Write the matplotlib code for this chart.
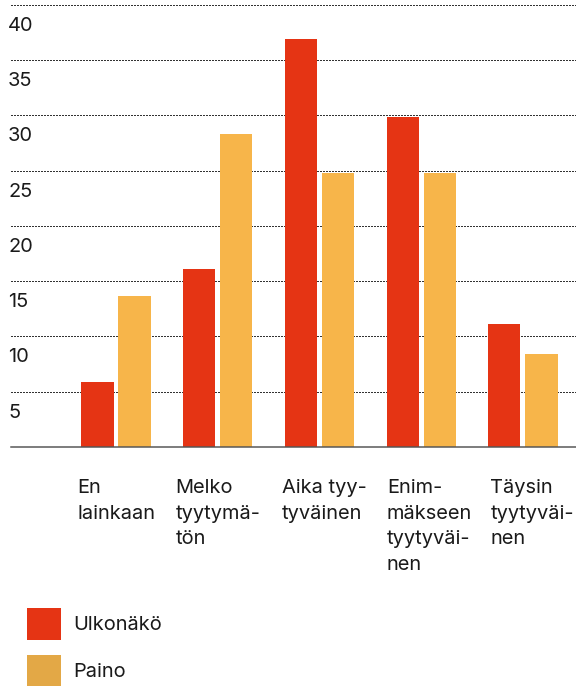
import matplotlib
matplotlib.use("Agg")
import matplotlib.pyplot as plt
from matplotlib.patches import Patch
import numpy as np

categories = ["En\nlainkaan", "Melko\ntyytymä-\ntön", "Aika tyy-\ntyväinen",
              "Enim-\nmäkseen\ntyytyväi-\nnen", "Täysin\ntyytyväi-\nnen"]
ulkonako = [5.9, 16.1, 36.9, 29.9, 11.1]
paino = [13.7, 28.3, 24.8, 24.8, 8.4]
yticks = [5, 10, 15, 20, 25, 30, 35, 40]
series_names = ["Ulkonäkö", "Paino"]

# layout
label_offsets = [-0.378, -0.417, -0.373, -0.339, -0.320]
RED = "#E53414"
YEL = "#F7B54A"
YEL_LEG = "#E3A846"
TXT = "#1a1a1a"
FS = 20

plt.rcParams['font.family'] = ['Inter', 'DejaVu Sans']

W, H = 576, 686
fig = plt.figure(figsize=(W / 72, H / 72), dpi=72)
ax = fig.add_axes([11 / W, 1 - 447 / H, 565 / W, 447 / H])

x = np.arange(len(categories))
bw = 0.315
off = 0.182
ax.bar(x - off, ulkonako, width=bw, color=RED, zorder=3)
ax.bar(x + off, paino, width=bw, color=YEL, zorder=3)

ax.set_xlim(-1.032, 4.521)
ax.set_ylim(0, 40.45)
ax.set_yticks(yticks)
ax.set_xticks([])
ax.yaxis.grid(True, linestyle=(0, (1, 1)), color="#333333", linewidth=1.0,
              zorder=1, antialiased=False)
ax.tick_params(axis='y', length=0, labelleft=False)
for s in ["left", "right", "top"]:
    ax.spines[s].set_visible(False)
ax.spines["bottom"].set_color("#555555")
ax.spines["bottom"].set_linewidth(1.5)
ax.spines["bottom"].set_zorder(4)

for t in yticks:
    ax.annotate(str(t), xy=(0, t), xycoords=('axes fraction', 'data'),
                xytext=(-3, -12), textcoords='offset points',
                ha='left', va='top', fontsize=FS, color=TXT)

for i, lab in enumerate(categories):
    ax.annotate(lab, xy=(x[i] + label_offsets[i], 0), xycoords='data',
                xytext=(0, -32), textcoords='offset points',
                ha='left', va='top', fontsize=FS, color=TXT,
                linespacing=1.55, annotation_clip=False)

handles = [Patch(facecolor=RED, edgecolor='none'), Patch(facecolor=YEL_LEG, edgecolor='none')]
fig.legend(handles, series_names, loc='upper left',
           bbox_to_anchor=(27 / W, 1 - 608 / H), borderaxespad=0, borderpad=0,
           frameon=False, fontsize=FS, handlelength=34 / FS, handleheight=41.3 / FS,
           labelspacing=15 / FS, handletextpad=0.6, labelcolor=TXT)

fig.savefig("out.png", dpi=72)
